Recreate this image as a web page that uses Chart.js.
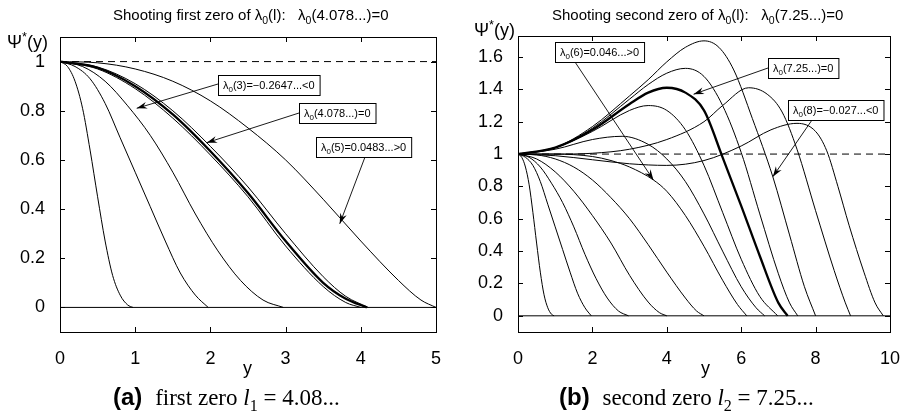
<!DOCTYPE html>
<html>
<head>
<meta charset="utf-8">
<script src="https://cdn.jsdelivr.net/npm/chart.js@4.4.1/dist/chart.umd.min.js"></script>
<style>
  body { margin: 0; background: #fff; }
  #wrap { position: relative; width: 908px; height: 413px; font-family: "Liberation Sans", Arial, sans-serif; color: #000; }
  canvas { position: absolute; top: 0; }
  .txt { position: absolute; white-space: nowrap; line-height: 1; }
  .title { font-size: 15px; }
  .ylab { font-size: 18px; }
  .xlab { font-size: 18px; }
  .cap { font-size: 23px; }
  .cap b { font-family: "Liberation Sans", Arial, sans-serif; font-size: 24px; }
  .cap span { font-family: "Liberation Serif", "DejaVu Serif", serif; }
  sub { font-size: 70%; vertical-align: -0.35em; }
  sup { font-size: 70%; vertical-align: 0.55em; }
</style>
</head>
<body>
<div id="wrap">
  <canvas id="chart_a" width="454" height="413" style="left:0"></canvas>
  <canvas id="chart_b" width="454" height="413" style="left:454px"></canvas>

  <div class="txt title" style="left:113px; top:7px;">Shooting first zero of &lambda;<sub>0</sub>(l):&nbsp;&nbsp; &lambda;<sub>0</sub>(4.078...)=0</div>
  <div class="txt title" style="left:552px; top:7px;">Shooting second zero of &lambda;<sub>0</sub>(l):&nbsp;&nbsp; &lambda;<sub>0</sub>(7.25...)=0</div>

  <div class="txt ylab" style="left:7px; top:31px;">&Psi;<sup>*</sup>(y)</div>
  <div class="txt ylab" style="left:474px; top:19px;">&Psi;<sup>*</sup>(y)</div>

  <div class="txt xlab" style="left:243px; top:359px;">y</div>
  <div class="txt xlab" style="left:701px; top:359px;">y</div>

  <div class="txt cap" style="left:113px; top:385px;"><b>(a)</b>&nbsp; <span>first zero <i>l</i><sub>1</sub> = 4.08...</span></div>
  <div class="txt cap" style="left:559px; top:385px;"><b>(b)</b>&nbsp; <span>second zero <i>l</i><sub>2</sub> = 7.25...</span></div>
</div>

<script>
// tick values
const xTicksA = [0, 1, 2, 3, 4, 5];
const yTicksA = [0, 0.2, 0.4, 0.6, 0.8, 1];
const xTicksB = [0, 2, 4, 6, 8, 10];
const yTicksB = [0, 0.2, 0.4, 0.6, 0.8, 1, 1.2, 1.4, 1.6];

// profiles psi*(y): [y, psi]
const psiL1 = [[0,1],[0.1,0.98],[0.2,0.92],[0.3,0.81],[0.4,0.64],[0.5,0.45],[0.6,0.27],[0.7,0.13],[0.8,0.05],[0.9,0.01],[0.97,0]];
const psiL2 = [[0,1],[0.2,0.98],[0.4,0.93],[0.6,0.83],[0.8,0.69],[1,0.55],[1.2,0.41],[1.4,0.27],[1.6,0.14],[1.8,0.05],[1.97,0]];
const psiL3 = [[0,1],[0.3,0.98],[0.6,0.92],[0.9,0.82],[1.2,0.7],[1.5,0.55],[1.8,0.38],[2.1,0.23],[2.4,0.11],[2.7,0.03],[2.97,0]];
const psiL4 = [[0,1],[0.5,0.97],[1,0.89],[1.5,0.77],[2,0.62],[2.5,0.45],[3,0.25],[3.5,0.085],[3.8,0.02],[4,0]];
const psiL4078 = [[0,1],[0.5,0.975],[1,0.9],[1.5,0.785],[2,0.635],[2.5,0.465],[3,0.27],[3.5,0.1],[3.8,0.035],[4.08,0]];
const psiL41 = [[0,1],[0.5,0.978],[1,0.91],[1.5,0.8],[2,0.655],[2.5,0.49],[3,0.3],[3.5,0.125],[3.8,0.045],[4.1,0]];
const psiL5 = [[0,1],[0.5,0.995],[1,0.97],[1.5,0.92],[2,0.84],[2.5,0.73],[3,0.6],[3.5,0.44],[4,0.27],[4.5,0.11],[4.8,0.03],[5,0]];

const psiL6 = [[0,1],[1,1],[2,0.985],[2.5,0.96],[3,0.92],[3.64,0.84],[4,0.77],[4.5,0.62],[5,0.43],[5.5,0.22],[5.9,0.07],[6.15,0]];
const psiL65 = [[0,1],[1,1.03],[2,1.09],[2.8,1.11],[3.5,1.06],[4,0.97],[4.5,0.83],[5,0.63],[5.5,0.4],[6,0.18],[6.4,0.05],[6.63,0]];
const psiL7 = [[0,1],[1,1.04],[2,1.14],[3,1.27],[3.5,1.3],[4,1.27],[4.5,1.15],[5,0.93],[5.5,0.64],[6,0.35],[6.5,0.12],[6.98,0]];
const psiL725 = [[0,1],[1,1.04],[2,1.15],[3,1.31],[3.5,1.38],[4,1.41],[4.5,1.38],[5,1.27],[5.5,0.98],[6,0.68],[6.5,0.37],[7,0.08],[7.25,0]];
const psiL75 = [[0,1],[1,1.04],[2,1.16],[3,1.34],[3.5,1.43],[4,1.5],[4.5,1.53],[5,1.48],[5.5,1.3],[6,1.01],[6.5,0.63],[7,0.26],[7.3,0.08],[7.52,0]];
const psiL8 = [[0,1],[1,1.04],[2,1.17],[3,1.36],[3.5,1.46],[4,1.57],[4.5,1.66],[5,1.7],[5.4,1.66],[5.8,1.52],[6.3,1.22],[6.85,0.86],[7.3,0.5],[7.7,0.18],[8,0]];
const psiL9 = [[0,1],[1,1],[2,1.005],[3,1.03],[4,1.09],[5,1.2],[5.5,1.3],[6.2,1.41],[6.7,1.37],[7.1,1.26],[7.5,1.03],[8,0.65],[8.5,0.28],[8.8,0.08],[8.94,0]];
const psiL10 = [[0,1],[1,0.99],[2,0.965],[3,0.94],[4,0.93],[5,0.96],[6,1.05],[6.8,1.15],[7.5,1.19],[8,1.14],[8.3,1.02],[8.6,0.8],[8.9,0.56],[9.3,0.27],[9.6,0.08],[9.82,0]];

const thinA = [psiL1, psiL2, psiL3, psiL4, psiL41, psiL5];
const thickA = psiL4078;
const thinB = [psiL1, psiL2, psiL3, psiL4, psiL5, psiL6, psiL65, psiL7, psiL75, psiL8, psiL9, psiL10];
const thickB = psiL725;

// arrow labels: [name, subscript, rest] and the point of the curve they point at
const notesA = [
    { parts: ['λ', '0', '(3)=−0.2647...<0'], tip: [1.02, 0.81] },
    { parts: ['λ', '0', '(4.078...)=0'], tip: [1.95, 0.67] },
    { parts: ['λ', '0', '(5)=0.0483...>0'], tip: [3.72, 0.34] }
];
const notesB = [
    { parts: ['λ', '0', '(6)=0.046...>0'], tip: [3.64, 0.84] },
    { parts: ['λ', '0', '(7.25...)=0'], tip: [4.72, 1.37] },
    { parts: ['λ', '0', '(8)=−0.027...<0'], tip: [6.85, 0.86] }
];

const toPts = arr => arr.map(([x, y]) => ({ x, y }));

function lineSet(arr, width, dash) {
    return {
        data: toPts(arr),
        showLine: true,
        borderColor: '#000',
        borderWidth: width,
        borderDash: dash || [],
        pointRadius: 0,
        cubicInterpolationMode: 'monotone',
        fill: false
    };
}

function drawNote(ctx, box, from, tip, parts) {
    ctx.save();
    ctx.font = '11px "Liberation Sans", Arial, sans-serif';
    const w0 = ctx.measureText(parts[0]).width;
    ctx.font = '8px "Liberation Sans", Arial, sans-serif';
    const w1 = ctx.measureText(parts[1]).width;
    ctx.font = '11px "Liberation Sans", Arial, sans-serif';
    const w2 = ctx.measureText(parts[2]).width;
    const w = w0 + w1 + w2 + 10, h = 20;

    // arrow
    ctx.strokeStyle = '#000';
    ctx.fillStyle = '#000';
    ctx.lineWidth = 0.9;
    ctx.beginPath();
    ctx.moveTo(from[0], from[1]);
    ctx.lineTo(tip[0], tip[1]);
    ctx.stroke();
    const ang = Math.atan2(tip[1] - from[1], tip[0] - from[0]);
    const L = 11, spread = 0.32;
    ctx.beginPath();
    ctx.moveTo(tip[0], tip[1]);
    ctx.lineTo(tip[0] - L * Math.cos(ang - spread), tip[1] - L * Math.sin(ang - spread));
    ctx.lineTo(tip[0] - 7 * Math.cos(ang), tip[1] - 7 * Math.sin(ang));
    ctx.lineTo(tip[0] - L * Math.cos(ang + spread), tip[1] - L * Math.sin(ang + spread));
    ctx.closePath();
    ctx.fill();

    // box
    ctx.fillStyle = '#fff';
    ctx.fillRect(box[0], box[1], w, h);
    ctx.lineWidth = 1;
    ctx.strokeRect(box[0] + 0.5, box[1] + 0.5, w, h);
    ctx.fillStyle = '#000';
    ctx.textBaseline = 'alphabetic';
    const base = box[1] + 14;
    let x = box[0] + 5;
    ctx.fillText(parts[0], x, base);
    x += w0;
    ctx.font = '8px "Liberation Sans", Arial, sans-serif';
    ctx.fillText(parts[1], x, base + 3);
    x += w1;
    ctx.font = '11px "Liberation Sans", Arial, sans-serif';
    ctx.fillText(parts[2], x, base);
    ctx.restore();
}

// box frame with inward ticks on all sides, plus the arrow labels
const framePlugin = {
    id: 'frame',
    afterDatasetsDraw(chart, args, opts) {
        const ctx = chart.ctx;
        const a = chart.chartArea;
        const xs = chart.scales.x, ys = chart.scales.y;
        ctx.save();
        ctx.strokeStyle = '#000';
        ctx.lineWidth = 1;
        ctx.strokeRect(Math.round(a.left) + 0.5, Math.round(a.top) + 0.5, Math.round(a.right - a.left), Math.round(a.bottom - a.top));
        ctx.beginPath();
        const t = 5;
        for (const v of opts.xTicks) {
            const px = Math.round(xs.getPixelForValue(v)) + 0.5;
            ctx.moveTo(px, a.bottom); ctx.lineTo(px, a.bottom - t);
            ctx.moveTo(px, a.top); ctx.lineTo(px, a.top + t);
        }
        for (const v of opts.yTicks) {
            const py = Math.round(ys.getPixelForValue(v)) + 0.5;
            ctx.moveTo(a.left, py); ctx.lineTo(a.left + t, py);
            ctx.moveTo(a.right, py); ctx.lineTo(a.right - t, py);
        }
        ctx.stroke();
        ctx.restore();

        for (const n of opts.notes) {
            const tip = [xs.getPixelForValue(n.tip[0]), ys.getPixelForValue(n.tip[1])];
            drawNote(ctx, n.box, n.from, tip, n.parts);
        }
    }
};

function makeChart(id, cfg) {
    const ctx = document.getElementById(id).getContext('2d');
    const datasets = [
        lineSet([[cfg.xMin, 0], [cfg.xMax, 0]], 1),
        lineSet([[cfg.xMin, 1], [cfg.xMax, 1]], 1, [7, 5])
    ];
    for (const c of cfg.thin) datasets.push(lineSet(c, 1));
    datasets.push(lineSet(cfg.thick, 2.3));

    return new Chart(ctx, {
        type: 'scatter',
        data: { datasets },
        options: {
            responsive: false,
            animation: false,
            events: [],
            layout: { padding: cfg.padding },
            plugins: {
                legend: { display: false },
                tooltip: { enabled: false },
                frame: { xTicks: cfg.xTicks, yTicks: cfg.yTicks, notes: cfg.notes }
            },
            scales: {
                x: {
                    type: 'linear',
                    min: cfg.xMin,
                    max: cfg.xMax,
                    grid: { display: false },
                    border: { display: false },
                    afterBuildTicks: s => { s.ticks = cfg.xTicks.map(v => ({ value: v })); },
                    afterFit: s => { s.height = cfg.xAxisHeight; },
                    ticks: {
                        color: '#000',
                        padding: 8,
                        maxRotation: 0,
                        font: { family: '"Liberation Sans", Arial, sans-serif', size: 18 },
                        callback: v => String(v)
                    }
                },
                y: {
                    type: 'linear',
                    min: cfg.yMin,
                    max: cfg.yMax,
                    grid: { display: false },
                    border: { display: false },
                    afterBuildTicks: s => { s.ticks = cfg.yTicks.map(v => ({ value: v })); },
                    afterFit: s => { s.width = cfg.yAxisWidth; },
                    ticks: {
                        color: '#000',
                        padding: 7,
                        font: { family: '"Liberation Sans", Arial, sans-serif', size: 18 },
                        callback: v => String(Math.round(v * 10) / 10)
                    }
                }
            }
        },
        plugins: [framePlugin]
    });
}

makeChart('chart_a', {
    xMin: 0, xMax: 5, yMin: -0.1, yMax: 1.1,
    xTicks: xTicksA, yTicks: yTicksA,
    thin: thinA, thick: thickA,
    padding: { left: 0, right: 18, top: 37, bottom: 0 },
    yAxisWidth: 60, xAxisHeight: 81,
    notes: [
        Object.assign({ box: [218, 75], from: [218, 84] }, notesA[0]),
        Object.assign({ box: [299, 103], from: [299, 113] }, notesA[1]),
        Object.assign({ box: [316, 137], from: [365, 157] }, notesA[2])
    ]
});

makeChart('chart_b', {
    xMin: 0, xMax: 10, yMin: -0.1, yMax: 1.73,
    xTicks: xTicksB, yTicks: yTicksB,
    thin: thinB, thick: thickB,
    padding: { left: 0, right: 14, top: 36, bottom: 0 },
    yAxisWidth: 64, xAxisHeight: 81,
    notes: [
        Object.assign({ box: [101, 42], from: [121, 62] }, notesB[0]),
        Object.assign({ box: [314, 58], from: [314, 68] }, notesB[1]),
        Object.assign({ box: [334, 100], from: [358, 120] }, notesB[2])
    ]
});
</script>
</body>
</html>
